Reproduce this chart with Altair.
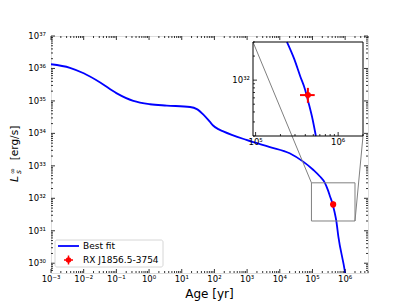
import altair as alt
import pandas as pd

# ---------------- data ----------------
age = [1e-3, 3.8e-3, 1.0e-2, 3.2e-2, 0.10, 0.33, 1.07, 3.5, 18, 29, 46, 72, 91,
       132, 186, 950, 5.0e3, 2.0e4, 5.2e4, 1.05e5, 1.7e5, 2.4e5, 2.95e5, 3.47e5,
       3.98e5, 4.37e5, 4.9e5, 5.37e5, 6.2e5, 9.8e5, 1.03e6]
lum = [1.35e36, 1.05e36, 7.1e35, 3.7e35, 1.74e35, 1.0e35, 7.9e34, 7.2e34,
       6.5e34, 5.6e34, 3.8e34, 2.3e34, 1.75e34, 1.35e34, 1.15e34, 6.3e33, 3.8e33, 2.45e33,
       1.35e33, 7.6e32, 4.7e32, 3.0e32, 1.82e32, 1.12e32, 7.6e31, 5.25e31,
       3.24e31, 2.0e31, 6.6e30, 5.6e29, 4.0e29]

obs_age = [4.3e5]
obs_age_lo = [3.45e5]
obs_age_hi = [5.2e5]
obs_lum = [6.5e31]
obs_lum_lo = [5.2e31]
obs_lum_hi = [8.0e31]

series_names = ["Best fit", "RX J1856.5-3754"]
x_title = "Age [yr]"

x_major_exp = [-3, -2, -1, 0, 1, 2, 3, 4, 5, 6]
y_major_exp = [30, 31, 32, 33, 34, 35, 36, 37]
x_domain = [1e-3, 5e6]
y_domain = [5e29, 1e37]

inset_x_domain = [9.3e4, 2.0e6]
inset_y_domain = [2.0e31, 3.0e32]
inset_x_major_exp = [5, 6]
inset_y_major_exp = [32]

# ---------------- layout ----------------
W, H = 317, 237
IX0, IX1 = 202, 312      # inset pixel range (x)
IY0, IY1 = 100, 6        # inset pixel range (y, bottom -> top)
FONT = "DejaVu Sans"
LBL = 8.5

sup = str.maketrans("0123456789-", "⁰¹²³⁴⁵⁶⁷⁸⁹⁻")


def tenpow(k):
    return "10" + str(k).translate(sup)


def minor_ticks(lo_exp, hi_exp, lo, hi):
    return [m * 10.0 ** k for k in range(lo_exp, hi_exp + 1) for m in range(2, 10)
            if lo <= m * 10.0 ** k <= hi]


x_minor = minor_ticks(-3, 6, *x_domain)
y_minor = minor_ticks(29, 36, *y_domain)
ix_minor = minor_ticks(4, 6, *inset_x_domain)
iy_minor = minor_ticks(31, 32, *inset_y_domain)

curve = pd.DataFrame({"age": age, "lum": lum})
obs = pd.DataFrame({"age": obs_age, "alo": obs_age_lo, "ahi": obs_age_hi,
                    "lum": obs_lum, "llo": obs_lum_lo, "lhi": obs_lum_hi})

mx = alt.Scale(type="log", domain=x_domain, nice=False)
my = alt.Scale(type="log", domain=y_domain, nice=False)
ix = alt.Scale(type="log", domain=inset_x_domain, range=[IX0, IX1], nice=False)
iy = alt.Scale(type="log", domain=inset_y_domain, range=[IY0, IY1], nice=False)


def X(f, s):
    return alt.X(f, scale=s, axis=None)


def Y(f, s):
    return alt.Y(f, scale=s, axis=None)


RED = "#ff0000"
BLUE = "#0000ff"
GRAY = "#808080"

# ---------------- main panel ----------------
main_curve = alt.Chart(curve).mark_line(color=BLUE, strokeWidth=1.8, clip=True,
                                        interpolate="monotone").encode(
    x=X("age:Q", mx), y=Y("lum:Q", my))

main_errx = alt.Chart(obs).mark_rule(color=RED, strokeWidth=1.5).encode(
    x=X("alo:Q", mx), x2="ahi:Q", y=Y("lum:Q", my))
main_erry = alt.Chart(obs).mark_rule(color=RED, strokeWidth=1.5).encode(
    x=X("age:Q", mx), y=Y("llo:Q", my), y2="lhi:Q")
main_pt = alt.Chart(obs).mark_point(shape="circle", filled=True, size=38, color=RED, opacity=1).encode(
    x=X("age:Q", mx), y=Y("lum:Q", my))

box_df = pd.DataFrame({"x0": [inset_x_domain[0]], "x1": [inset_x_domain[1]],
                       "y0": [inset_y_domain[0]], "y1": [inset_y_domain[1]]})
zoom_box = alt.Chart(box_df).mark_rect(fillOpacity=0, stroke=GRAY, strokeWidth=1).encode(
    x=X("x0:Q", mx), x2="x1:Q", y=Y("y0:Q", my), y2="y1:Q")
conn1 = alt.Chart(box_df).mark_rule(color=GRAY, strokeWidth=1).encode(
    x=X("x0:Q", mx), y=Y("y1:Q", my), x2=alt.value(IX0), y2=alt.value(IY1))
conn2 = alt.Chart(box_df).mark_rule(color=GRAY, strokeWidth=1).encode(
    x=X("x1:Q", mx), y=Y("y0:Q", my), x2=alt.value(IX1), y2=alt.value(IY0))


def xticks(values, scale, y_edge, length):
    df = pd.DataFrame({"v": values})
    return alt.Chart(df).mark_rule(color="black", strokeWidth=0.8).encode(
        x=X("v:Q", scale), y=alt.value(y_edge), y2=alt.value(y_edge + length))


def yticks(values, scale, x_edge, length):
    df = pd.DataFrame({"v": values})
    return alt.Chart(df).mark_rule(color="black", strokeWidth=0.8).encode(
        y=Y("v:Q", scale), x=alt.value(x_edge), x2=alt.value(x_edge + length))


def xlabels(exps, scale, y_pos):
    df = pd.DataFrame({"v": [10.0 ** k for k in exps], "t": [tenpow(k) for k in exps]})
    return alt.Chart(df).mark_text(font=FONT, fontSize=LBL, color="black",
                                   align="center", baseline="top").encode(
        x=X("v:Q", scale), y=alt.value(y_pos), text="t:N")


def ylabels(exps, scale, x_pos):
    df = pd.DataFrame({"v": [10.0 ** k for k in exps], "t": [tenpow(k) for k in exps]})
    return alt.Chart(df).mark_text(font=FONT, fontSize=LBL, color="black",
                                   align="right", baseline="middle").encode(
        y=Y("v:Q", scale), x=alt.value(x_pos), text="t:N")


x_major = [10.0 ** k for k in x_major_exp]
y_major = [10.0 ** k for k in y_major_exp]

main_ticks = [
    xticks(x_major, mx, H, -4), xticks(x_minor, mx, H, -2),
    xticks(x_major, mx, 0, 4), xticks(x_minor, mx, 0, 2),
    yticks(y_major, my, 0, 4), yticks(y_minor, my, 0, 2),
    yticks(y_major, my, W, -4), yticks(y_minor, my, W, -2),
    xlabels(x_major_exp, mx, H + 2),
    ylabels(y_major_exp, my, -5),
]

one = pd.DataFrame({"a": [0]})
xtitle = alt.Chart(one).mark_text(text=x_title, font=FONT, fontSize=12, color="black",
                                  align="center", baseline="middle").encode(
    x=alt.value(W / 2), y=alt.value(258))

# legend
leg_box = alt.Chart(one).mark_rect(fill="white", fillOpacity=0.8, stroke="#cccccc",
                                    strokeWidth=0.8, cornerRadius=2).encode(
    x=alt.value(4), x2=alt.value(112), y=alt.value(204), y2=alt.value(231))
leg_line = alt.Chart(one).mark_rule(color=BLUE, strokeWidth=1.8).encode(
    x=alt.value(7), x2=alt.value(28), y=alt.value(210))
leg_h = alt.Chart(one).mark_rule(color=RED, strokeWidth=1.5).encode(
    x=alt.value(13), x2=alt.value(22), y=alt.value(224))
leg_v = alt.Chart(one).mark_rule(color=RED, strokeWidth=1.5).encode(
    x=alt.value(17.5), y=alt.value(219.5), y2=alt.value(228.5))
leg_pt = alt.Chart(one).mark_point(shape="circle", filled=True, size=30, color=RED, opacity=1).encode(
    x=alt.value(17.5), y=alt.value(224))
leg_txt = alt.Chart(pd.DataFrame({"name": series_names, "row": [210, 224]})).mark_text(
    align="left", baseline="middle", font=FONT, fontSize=9, color="black").encode(
    x=alt.value(32), y=alt.Y("row:Q", scale=None, axis=None), text="name:N")

# y title pieces (L_s^inf [erg/s]) rotated
ytitle = [
    alt.Chart(one).mark_text(text="[erg/s]", angle=270, font=FONT, fontSize=10.5, color="black",
                             align="center", baseline="middle").encode(
        x=alt.value(-36.5), y=alt.value(107)),
    alt.Chart(one).mark_text(text="L", angle=270, font=FONT, fontSize=11, fontStyle="italic",
                             color="black", align="center", baseline="middle").encode(
        x=alt.value(-36), y=alt.value(143)),
    alt.Chart(one).mark_text(text="∞", angle=270, font=FONT, fontSize=7.5, color="black",
                             align="center", baseline="middle").encode(
        x=alt.value(-38.5), y=alt.value(135)),
    alt.Chart(one).mark_text(text="s", angle=270, font=FONT, fontSize=7.5, fontStyle="italic",
                             color="black", align="center", baseline="middle").encode(
        x=alt.value(-32), y=alt.value(136)),
]

main = alt.layer(main_curve, zoom_box, conn1, conn2, main_errx, main_erry, main_pt,
                 *main_ticks, xtitle, leg_box, leg_line, leg_h, leg_v, leg_pt, leg_txt, *ytitle)

# ---------------- inset ----------------
lo, hi = inset_y_domain
inset_curve = alt.Chart(curve).transform_filter(
    f"datum.lum >= {lo * 0.999} && datum.lum <= {hi * 1.001}"
).mark_line(color=BLUE, strokeWidth=1.8, clip=True, interpolate="monotone").encode(
    x=X("age:Q", ix), y=Y("lum:Q", iy))
inset_errx = alt.Chart(obs).mark_rule(color=RED, strokeWidth=2).encode(
    x=X("alo:Q", ix), x2="ahi:Q", y=Y("lum:Q", iy))
inset_erry = alt.Chart(obs).mark_rule(color=RED, strokeWidth=2).encode(
    x=X("age:Q", ix), y=Y("llo:Q", iy), y2="lhi:Q")
inset_pt = alt.Chart(obs).mark_point(shape="circle", filled=True, size=36, color=RED, opacity=1).encode(
    x=X("age:Q", ix), y=Y("lum:Q", iy))
inset_frame = alt.Chart(box_df).mark_rect(fillOpacity=0, stroke="black", strokeWidth=1).encode(
    x=X("x0:Q", ix), x2="x1:Q", y=Y("y0:Q", iy), y2="y1:Q")
inset_ticks = [
    xticks([10.0 ** k for k in inset_x_major_exp], ix, IY0, -4), xticks(ix_minor, ix, IY0, -2),
    yticks([10.0 ** k for k in inset_y_major_exp], iy, IX0, 4), yticks(iy_minor, iy, IX0, 2),
    xlabels(inset_x_major_exp, ix, IY0 + 2),
    ylabels(inset_y_major_exp, iy, IX0 - 3),
]

inset = alt.layer(inset_curve, inset_errx, inset_erry, inset_pt, inset_frame, *inset_ticks)

chart = alt.layer(main, inset).resolve_scale(
    x="independent", y="independent"
).properties(
    width=W, height=H,
    autosize=alt.AutoSizeParams(type="none"),
    padding={"left": 43, "top": 28, "right": 33, "bottom": 29},
).configure_view(stroke="black", strokeWidth=1).configure(font=FONT)

chart.save("out.html", embed_options={"renderer": "svg", "actions": False})
